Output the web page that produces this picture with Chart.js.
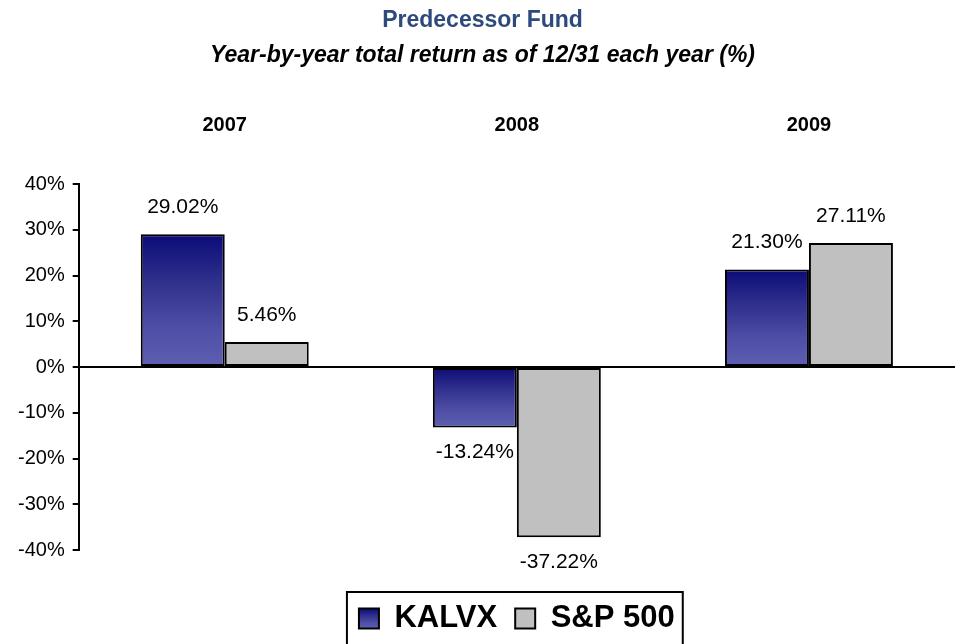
<!DOCTYPE html>
<html>
<head>
<meta charset="utf-8">
<script src="https://cdn.jsdelivr.net/npm/chart.js@4.4.1/dist/chart.umd.min.js"></script>
<style>
    html, body { margin: 0; padding: 0; background: #fff; }
    #wrap { width: 957px; height: 644px; position: relative; }
</style>
</head>
<body>
<div id="wrap"><canvas id="returnsChart"></canvas></div>
<script>
const years = ['2007', '2008', '2009'];
const kalvxReturns = [29.02, -13.24, 21.30];
const spReturns = [5.46, -37.22, 27.11];
const seriesNames = ['KALVX', 'S&P 500'];
const yTicks = [-40, -30, -20, -10, 0, 10, 20, 30, 40];

document.addEventListener('DOMContentLoaded', function () {
    Chart.defaults.font.family = '"Liberation Sans", Arial, sans-serif';
    Chart.defaults.color = '#000';

    function navyGradient(ctx, top, bottom) {
        const g = ctx.createLinearGradient(0, top, 0, bottom);
        g.addColorStop(0, '#0b0b78');
        g.addColorStop(0.35, '#2f2f8c');
        g.addColorStop(0.7, '#4e4ea6');
        g.addColorStop(1, '#5e5eb2');
        return g;
    }

    // dark navy at the top of each bar fading to a lighter blue at the bottom
    function kalvxFill(c) {
        if (c.type !== 'data') return '#2c2c8a';
        const y = c.chart.scales.y;
        const y0 = y.getPixelForValue(0);
        const y1 = y.getPixelForValue(c.raw);
        return navyGradient(c.chart.ctx, Math.min(y0, y1), Math.max(y0, y1));
    }

    const valueLabels = {
        id: 'valueLabels',
        afterDatasetsDraw(chart) {
            const ctx = chart.ctx;
            ctx.save();
            ctx.font = '21px "Liberation Sans", Arial, sans-serif';
            ctx.fillStyle = '#000';
            ctx.textAlign = 'center';
            ctx.textBaseline = 'middle';
            chart.data.datasets.forEach(function (ds, i) {
                chart.getDatasetMeta(i).data.forEach(function (bar, j) {
                    const v = ds.data[j];
                    const y = v >= 0 ? bar.y - 27 : bar.y + 25;
                    ctx.fillText(v.toFixed(2) + '%', bar.x, y);
                });
            });
            ctx.restore();
        }
    };

    const legendFrame = {
        id: 'legendFrame',
        beforeDraw(chart) {
            // give the KALVX legend swatch the same vertical gradient as the bars
            const lg = chart.legend;
            if (!lg || !lg.legendHitBoxes || !lg.legendHitBoxes.length) return;
            const hb = lg.legendHitBoxes[0];
            const top = hb.top + (hb.height - 20) / 2;
            lg.legendItems[0].fillStyle = navyGradient(chart.ctx, top, top + 20);
        },
        afterDraw(chart) {
            const boxes = chart.legend.legendHitBoxes;
            if (!boxes || !boxes.length) return;
            let l = Infinity, r = -Infinity, t = Infinity;
            boxes.forEach(function (b) {
                l = Math.min(l, b.left);
                r = Math.max(r, b.left + b.width);
                t = Math.min(t, b.top);
            });
            const ctx = chart.ctx;
            ctx.save();
            ctx.strokeStyle = '#000';
            ctx.lineWidth = 2;
            ctx.strokeRect(l - 12, t - 11, r - l + 20, chart.height - t + 30);
            ctx.restore();
        }
    };

    const config = {
        type: 'bar',
        data: {
            labels: years,
            datasets: [{
                label: seriesNames[0],
                data: kalvxReturns,
                backgroundColor: kalvxFill,
                borderColor: '#000',
                borderWidth: 2,
                borderSkipped: false,
            }, {
                label: seriesNames[1],
                data: spReturns,
                backgroundColor: '#c0c0c0',
                borderColor: '#000',
                borderWidth: 2,
                borderSkipped: false,
            }],
        },
        options: {
            responsive: true,
            maintainAspectRatio: false,
            animation: false,
            datasets: {
                bar: { barPercentage: 1, categoryPercentage: 0.575 }
            },
            layout: { padding: { left: 10, right: 2, top: 0, bottom: 0 } },
            scales: {
                x: {
                    position: 'top',
                    grid: { display: false, drawTicks: false },
                    border: { display: false },
                    ticks: { font: { size: 20, weight: 'bold' }, padding: 46.5, color: '#000' },
                },
                y: {
                    min: -40,
                    max: 40,
                    afterBuildTicks(scale) {
                        scale.ticks = yTicks.map(function (v) { return { value: v }; });
                    },
                    ticks: {
                        font: { size: 20 },
                        padding: 8,
                        color: '#000',
                        callback: function (v) { return v + '%'; },
                    },
                    grid: {
                        color: function (c) { return c.tick && c.tick.value === 0 ? '#000' : 'rgba(0,0,0,0)'; },
                        lineWidth: 2,
                        tickColor: '#000',
                        tickWidth: 2,
                        tickLength: 6,
                    },
                    border: { display: true, color: '#000', width: 2 },
                },
            },
            plugins: {
                title: {
                    display: true,
                    text: 'Predecessor Fund',
                    color: '#2e4a7c',
                    font: { size: 23, weight: 'bold', lineHeight: 1 },
                    padding: { top: 9, bottom: 12 },
                },
                subtitle: {
                    display: true,
                    text: 'Year-by-year total return as of 12/31 each year (%)',
                    color: '#000',
                    font: { size: 23, weight: 'bold', style: 'italic', lineHeight: 1 },
                    padding: { top: 0, bottom: 0 },
                },
                legend: {
                    position: 'bottom',
                    fullSize: false,
                    title: {
                        display: true,
                        text: ' ',
                        font: { size: 10 },
                        padding: { top: 11.5, bottom: 11.5 },
                    },
                    labels: {
                        boxWidth: 20,
                        boxHeight: 20,
                        padding: 18,
                        color: '#000',
                        font: { size: 31, weight: 'bold' },
                    },
                },
                tooltip: { enabled: false },
            },
        },
        plugins: [valueLabels, legendFrame],
    };

    const ctx = document.getElementById('returnsChart').getContext('2d');
    new Chart(ctx, config);
});
</script>
</body>
</html>
